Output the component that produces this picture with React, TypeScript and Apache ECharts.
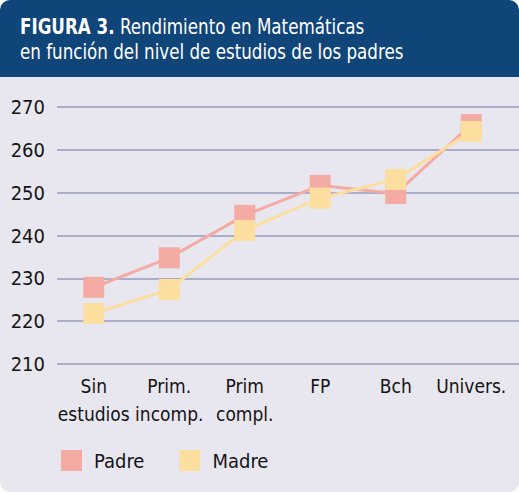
import React, { useEffect, useRef } from "react";
import * as echarts from "echarts";

const categories = ["Sin\nestudios", "Prim.\nincomp.", "Prim\ncompl.", "FP", "Bch", "Univers."];
const padre = [227.9, 234.8, 244.7, 251.7, 249.8, 265.9];
const madre = [221.8, 227.4, 241.2, 248.7, 253.1, 264.3];
const yMin = 210;
const yMax = 270;
const yStep = 10;

const FONT = "'DejaVu Sans Condensed', 'Liberation Sans Narrow', sans-serif";
const PINK = "#F4ABA3";
const YELLOW = "#FCDF9F";
const INK = "#141414";

export default function App() {
  const ref = useRef<HTMLDivElement>(null);
  useEffect(() => {
    if (!ref.current) return;
    const chart = echarts.init(ref.current, null, { renderer: "svg" });
    chart.setOption({
      animation: false,
      backgroundColor: "#ffffff",
      graphic: [
        { type: "rect", z: -10, shape: { x: 0, y: 0, width: 519, height: 492, r: 10 }, style: { fill: "#E8E7F0" }, silent: true },
        { type: "rect", z: -9, shape: { x: 0, y: 0, width: 519, height: 77, r: [10, 10, 0, 0] }, style: { fill: "#10457A" }, silent: true },
        {
          type: "text",
          z: 10,
          x: 20,
          y: 14,
          scaleX: 0.845,
          silent: true,
          style: {
            text: "{b|FIGURA 3.} {n|Rendimiento en Matemáticas}\n{n|en función del nivel de estudios de los padres}",
            fill: "#ffffff",
            font: `normal 22px ${FONT}`,
            verticalAlign: "top",
            lineHeight: 25,
            rich: {
              b: { fill: "#ffffff", fontFamily: FONT, fontSize: 22, fontWeight: "bold", lineHeight: 25 },
              n: { fill: "#ffffff", fontFamily: FONT, fontSize: 22, fontWeight: "normal", lineHeight: 25 },
            },
          },
        },
      ],
      legend: {
        left: 61,
        top: 450,
        padding: 0,
        icon: "rect",
        itemWidth: 21,
        itemHeight: 21,
        itemGap: 35,
        textStyle: { fontFamily: FONT, fontSize: 20, color: INK, padding: [0, 0, 0, 7] },
        data: ["Padre", "Madre"],
      },
      grid: [
        { left: 56, right: 10, top: 107, bottom: 129 },
        { left: 57, right: 0, top: 107, bottom: 129 },
      ],
      xAxis: [
        {
          type: "category",
          gridIndex: 0,
          data: categories,
          boundaryGap: true,
          axisLine: { show: false },
          axisTick: { show: false },
          axisLabel: { fontFamily: FONT, fontSize: 19, color: INK, lineHeight: 28, margin: 8, interval: 0 },
        },
        { type: "value", gridIndex: 1, show: false },
      ],
      yAxis: [
        {
          type: "value",
          gridIndex: 0,
          min: yMin,
          max: yMax,
          interval: yStep,
          axisLine: { show: false },
          axisTick: { show: false },
          splitLine: { show: false },
          axisLabel: { fontFamily: FONT, fontSize: 20, color: INK, margin: 11 },
        },
        {
          type: "value",
          gridIndex: 1,
          min: yMin,
          max: yMax,
          interval: yStep,
          axisLine: { show: false },
          axisTick: { show: false },
          axisLabel: { show: false },
          splitLine: { show: true, lineStyle: { color: "#ABAECB", width: 2 } },
        },
      ],
      series: [
        {
          name: "Padre",
          type: "line",
          xAxisIndex: 0,
          yAxisIndex: 0,
          data: padre,
          symbol: "rect",
          symbolSize: 21,
          color: PINK,
          lineStyle: { color: PINK, width: 3 },
          itemStyle: { color: PINK },
          z: 3,
        },
        {
          name: "Madre",
          type: "line",
          xAxisIndex: 0,
          yAxisIndex: 0,
          data: madre,
          symbol: "rect",
          symbolSize: 21,
          color: YELLOW,
          lineStyle: { color: YELLOW, width: 3 },
          itemStyle: { color: YELLOW },
          z: 4,
        },
      ],
    });
    return () => chart.dispose();
  }, []);
  return (
    <div style={{ position: "absolute", left: 0, top: 0, width: 519, height: 493 }}>
      <div ref={ref} style={{ width: 519, height: 493 }} />
    </div>
  );
}
